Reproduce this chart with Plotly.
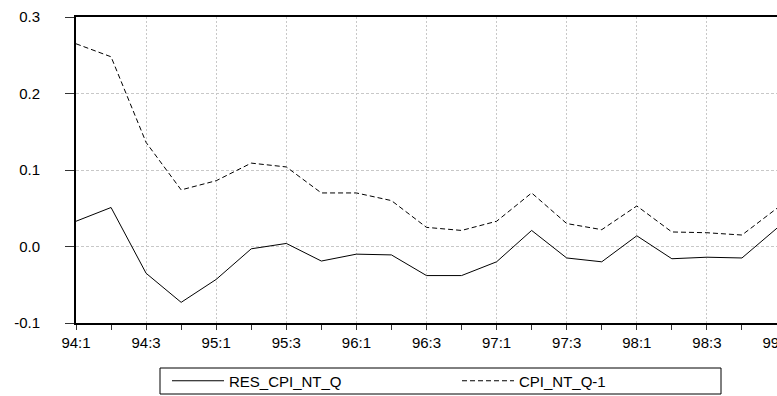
import plotly.graph_objects as go

quarters = ["94:1", "94:2", "94:3", "94:4", "95:1", "95:2", "95:3", "95:4",
            "96:1", "96:2", "96:3", "96:4", "97:1", "97:2", "97:3", "97:4",
            "98:1", "98:2", "98:3", "98:4", "99:1"]

res_cpi_nt_q = [0.033, 0.051, -0.035, -0.073, -0.043, -0.003, 0.004, -0.019,
                -0.010, -0.011, -0.038, -0.038, -0.020, 0.021, -0.015, -0.020,
                0.014, -0.016, -0.014, -0.015, 0.024]

cpi_nt_q_1 = [0.265, 0.248, 0.136, 0.074, 0.086, 0.109, 0.104, 0.070,
              0.070, 0.060, 0.025, 0.021, 0.033, 0.070, 0.030, 0.022,
              0.053, 0.019, 0.018, 0.015, 0.050]

y_ticks = [-0.1, 0.0, 0.1, 0.2, 0.3]
y_tick_text = ["-0.1", "0.0", "0.1", "0.2", "0.3"]

xpos = list(range(len(quarters)))
label_pos = xpos[::2]
label_txt = quarters[::2]

FONT = "Liberation Sans, Arial, sans-serif"
FS = 15

fig = go.Figure()
fig.add_trace(go.Scatter(x=xpos, y=res_cpi_nt_q, mode="lines", name="RES_CPI_NT_Q",
                         line=dict(color="black", width=1), cliponaxis=False))
fig.add_trace(go.Scatter(x=xpos, y=cpi_nt_q_1, mode="lines", name="CPI_NT_Q-1",
                         line=dict(color="black", width=1, dash="5px,3px"), cliponaxis=False))

# zero line
fig.add_shape(type="line", xref="paper", x0=0, x1=1, yref="y", y0=0, y1=0,
              line=dict(color="#333333", width=1, dash="3px,2px"), layer="below")

# legend box
fig.add_shape(type="rect", xref="paper", yref="paper",
              x0=(160 - 76) / 701, x1=(721 - 76) / 701,
              y0=(323 - 368) / 306, y1=(323 - 394) / 306,
              line=dict(color="black", width=1), fillcolor="rgba(0,0,0,0)")

fig.update_layout(
    width=777, height=396,
    margin=dict(l=76, r=0, t=17, b=73, autoexpand=False),
    paper_bgcolor="white", plot_bgcolor="white",
    font=dict(family=FONT, size=FS, color="black"),
    showlegend=True,
    legend=dict(orientation="h", x=(167 - 76) / 701, xanchor="left",
                y=(323 - 381) / 306, yanchor="middle",
                bgcolor="rgba(0,0,0,0)", borderwidth=0,
                entrywidth=223, itemwidth=52,
                font=dict(family=FONT, size=FS)),
    xaxis=dict(range=[0, len(quarters) - 1], tickmode="array",
               tickvals=label_pos, ticktext=label_txt,
               ticklabeloverflow="allow",
               showline=True, linecolor="black", linewidth=2, mirror=True,
               ticks="outside", ticklen=5, tickcolor="#333333", tickwidth=1,
               showgrid=True, gridcolor="#c8c8c8", gridwidth=1, griddash="2px,2px",
               zeroline=False, automargin=False,
               minor=dict(tickmode="linear", tick0=0, dtick=1, ticks="outside",
                          ticklen=5, tickcolor="#333333", showgrid=False)),
    yaxis=dict(range=[-0.1, 0.3], tickmode="array", tickvals=y_ticks,
               ticktext=y_tick_text,
               showline=True, linecolor="black", linewidth=2, mirror=False,
               ticks="outside", ticklen=9, tickcolor="#333333", tickwidth=1,
               ticklabelposition="outside", ticklabelstandoff=22,
               showgrid=True, gridcolor="#c8c8c8", gridwidth=1, griddash="3px,2px",
               zeroline=False, automargin=False),
)

fig.write_html("out.html")
